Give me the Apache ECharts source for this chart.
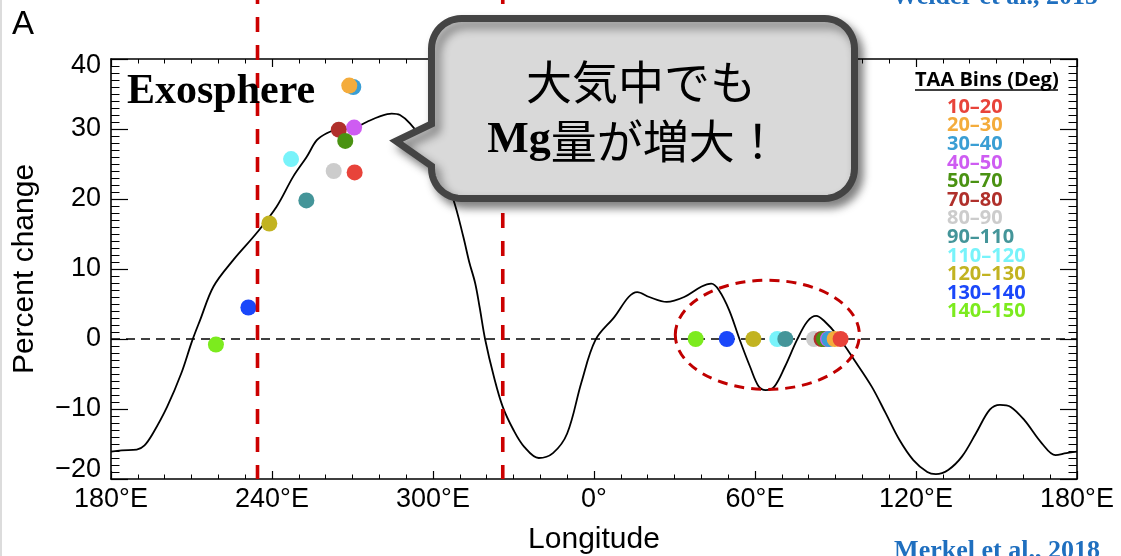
<!DOCTYPE html>
<html>
<head>
<meta charset="utf-8">
<script src="https://cdn.jsdelivr.net/npm/echarts@6/dist/echarts.min.js"></script>
<style>
  html, body { margin: 0; padding: 0; background: #fff; }
  #chart { width: 1121px; height: 556px; }
</style>
</head>
<body>
<div id="chart"></div>
<script>
// Longitudes are unwrapped so the axis runs 180°E → 360 (0°) → 540 (180°E again).
const xTickValues = [180, 240, 300, 360, 420, 480, 540];
const yTickValues = [-20, -10, 0, 10, 20, 30, 40];

// Surface Mg percent-change profile versus longitude
const curveLon = [180.0, 184.0, 189.6, 192.5, 195.6, 200.9, 206.2, 210.2, 213.2, 218.2,
  225.6, 234.2, 241.7, 247.9, 252.9, 256.7, 260.4, 264.1, 270.3, 275.3,
  280.2, 284.6, 287.7, 291.4, 297.0, 302.6, 307.6, 311.3, 313.5, 315.7,
  317.4, 319.4, 322.7, 326.0, 330.0, 334.0, 339.4, 344.7, 350.0, 355.3,
  360.6, 367.7, 372.9, 376.1, 380.6, 387.1, 393.6, 400.1, 403.7, 406.5,
  410.4, 414.3, 418.2, 421.4, 424.0, 427.2, 431.1, 435.7, 439.5, 442.8,
  446.0, 450.5, 457.0, 463.5, 468.7, 473.8, 479.0, 484.2, 487.4, 492.0,
  497.1, 502.3, 507.5, 511.3, 515.3, 520.4, 526.9, 532.0, 536.0, 540.0];
const curveVal = [-16.1, -15.9, -15.8, -15.2, -13.5, -9.7, -4.9, -0.3, 2.7, 7.5,
  11.3, 15.1, 18.9, 23.2, 26.0, 28.4, 29.4, 29.9, 30.1, 31.0,
  31.8, 32.2, 32.0, 30.8, 28.0, 24.5, 19.9, 14.6, 11.0, 8.0,
  4.5, 0.0, -5.4, -9.7, -13.0, -15.4, -17.0, -16.3, -13.5, -6.2,
  -0.1, 3.2, 6.0, 6.7, 6.0, 5.3, 6.0, 7.5, 7.9, 7.0,
  4.1, -0.1, -4.0, -6.8, -7.3, -6.8, -4.0, -0.1, 2.5, 3.3,
  2.5, 0.6, -3.0, -6.8, -10.6, -14.4, -17.3, -19.0, -19.3, -18.7,
  -16.8, -13.5, -10.1, -9.4, -9.7, -11.6, -14.9, -16.6, -16.3, -16.1];

// True-anomaly-angle bins and their colours
const taaBins = ['10–20', '20–30', '30–40', '40–50', '50–70', '70–80',
  '80–90', '90–110', '110–120', '120–130', '130–140', '140–150'];
const binColors = ['#E8433A', '#F4AC3C', '#3A9ED4', '#CE5CF2', '#4A9212', '#B0302B',
  '#CCCCCC', '#449599', '#78F3FA', '#C2B321', '#1A47FA', '#7CEB1E'];

// Exospheric Mg enhancement per bin: peak longitude and percent change
const exoLon = [270.8, 268.8, 270.3, 270.6, 267.3, 264.9, 263.0, 252.8, 247.1, 239.0, 231.2, 219.1];
const exoVal = [23.8, 36.2, 36.0, 30.2, 28.3, 29.9, 24.0, 19.8, 25.7, 16.5, 4.5, -0.8];

// Sub-solar longitude per bin, marked on the zero line
const surfLon = [451.9, 449.7, 447.7, 447.2, 445.7, 444.8, 442.0, 431.3, 428.3, 419.4, 409.5, 397.9];
const surfVal = [0, 0, 0, 0, 0, 0, 0, 0, 0, 0, 0, 0];

// Boundaries of the exosphere region (red dashed verticals)
const boundaryLon = [234.6, 326.0];
// Highlighted group of points on the zero line: centre and half-extents in data units
const highlightCenter = [424.6, 0.6];
const highlightHalf = [34.3, 7.8];

const FONT = '"Liberation Sans", Arial, sans-serif';
const SERIF = '"Liberation Serif", "Times New Roman", serif';
const JP = '"Noto Sans CJK JP", sans-serif';
const LEGEND_FONT = '"Open Sans", "Liberation Sans", sans-serif';

function lonLabel(v) {
  const d = ((v % 360) + 360) % 360;
  return d === 0 ? '0°' : d + '°E';
}
function yLabel(v) {
  const s = String(v).replace('-', '−');
  if (v === 40) return '{top|' + s + '}';
  if (v === -20) return '{bot|' + s + '}';
  return s;
}

const chart = echarts.init(document.getElementById('chart'), null, { renderer: 'canvas' });

const tickStyle = { color: '#000', width: 1.2 };
const axisLineStyle = { color: '#000', width: 1.6 };

const xAxisBase = {
  type: 'value', min: xTickValues[0], max: xTickValues[xTickValues.length - 1], interval: 60,
  axisLine: { show: true, onZero: false, lineStyle: axisLineStyle },
  axisTick: { show: true, inside: true, length: 8, lineStyle: tickStyle },
  minorTick: { show: true, splitNumber: 6, length: 4.5, lineStyle: { color: '#000', width: 1 } },
  splitLine: { show: false }, minorSplitLine: { show: false }
};
const yAxisBase = {
  type: 'value', min: yTickValues[0], max: yTickValues[yTickValues.length - 1], interval: 10,
  axisLine: { show: true, onZero: false, lineStyle: axisLineStyle },
  axisTick: { show: true, inside: true, length: 17, lineStyle: tickStyle },
  minorTick: { show: true, splitNumber: 10, length: 8.5, lineStyle: { color: '#000', width: 1 } },
  splitLine: { show: false }, minorSplitLine: { show: false }
};

// scatter series drawn from the last bin to the first so 10–20 ends up on top
const scatterSeries = [];
for (let i = taaBins.length - 1; i >= 0; i--) {
  scatterSeries.push({
    name: taaBins[i], type: 'scatter', symbol: 'circle', symbolSize: 16, z: 5,
    itemStyle: { color: binColors[i], opacity: 1 },
    emphasis: { disabled: true },
    data: [[exoLon[i], exoVal[i]], [surfLon[i], surfVal[i]]]
  });
}

chart.setOption({
  animation: false,
  backgroundColor: '#fff',
  grid: { left: 111, right: 44, top: 59, bottom: 77, containLabel: false, outerBoundsMode: 'none' },
  xAxis: [
    Object.assign({}, xAxisBase, {
      position: 'bottom',
      axisLabel: { show: true, formatter: lonLabel, fontSize: 27, color: '#000', fontFamily: FONT,
        margin: 7, showMinLabel: true, showMaxLabel: true },
      name: 'Longitude', nameLocation: 'middle', nameGap: 46,
      nameTextStyle: { fontSize: 30, color: '#000', fontFamily: FONT }
    }),
    Object.assign({}, xAxisBase, { position: 'top', axisLabel: { show: false } })
  ],
  yAxis: [
    Object.assign({}, yAxisBase, {
      position: 'left',
      axisLabel: { show: true, formatter: yLabel, fontSize: 27, color: '#000', fontFamily: FONT,
        margin: 10, showMinLabel: true, showMaxLabel: true,
        rich: {
          top: { fontSize: 27, fontFamily: FONT, color: '#000', padding: [14, 0, 0, 0] },
          bot: { fontSize: 27, fontFamily: FONT, color: '#000', padding: [0, 0, 18, 0] }
        } },
      name: 'Percent change', nameLocation: 'middle', nameGap: 71, nameRotate: 90,
      nameTextStyle: { fontSize: 30, color: '#000', fontFamily: FONT }
    }),
    Object.assign({}, yAxisBase, { position: 'right', axisLabel: { show: false } })
  ],
  legend: {
    orient: 'vertical', left: 937, top: 92, itemGap: -1.4, itemWidth: 0, itemHeight: 8,
    icon: 'none', selectedMode: false,
    textStyle: { fontSize: 20, fontWeight: 'bold', fontFamily: LEGEND_FONT },
    data: taaBins.map((b, i) => ({ name: b, textStyle: { color: binColors[i] } }))
  },
  series: [
    {
      name: 'profile', type: 'line', z: 2, smooth: 0.35, showSymbol: false, symbol: 'none',
      lineStyle: { color: '#000', width: 1.8 },
      emphasis: { disabled: true },
      data: curveLon.map((lon, i) => [lon, curveVal[i]]),
      markLine: {
        silent: true, symbol: 'none', label: { show: false },
        lineStyle: { color: '#000', width: 1.6, type: [9, 6] },
        data: [{ yAxis: 0 }]
      }
    }
  ].concat(scatterSeries)
});

// Annotations positioned through the chart's own coordinate conversion
function px(lon, val) { return chart.convertToPixel({ gridIndex: 0 }, [lon, val]); }

const bottomY = px(boundaryLon[0], yTickValues[0])[1];
const graphics = [];

// left page border
graphics.push({ type: 'line', z: 1, shape: { x1: 1, y1: 0, x2: 1, y2: 556 },
  style: { stroke: '#dcdcdc', lineWidth: 2 } });

boundaryLon.forEach(lon => {
  const x = px(lon, 0)[0];
  graphics.push({ type: 'line', z: 10, shape: { x1: x, y1: -11, x2: x, y2: bottomY },
    style: { stroke: '#CC0000', lineWidth: 3.6, lineDash: [15, 13] } });
});

// dashed ellipse round the zero-line points
const c = px(highlightCenter[0], highlightCenter[1]);
const e1 = px(highlightCenter[0] + highlightHalf[0], highlightCenter[1] + highlightHalf[1]);
graphics.push({ type: 'ellipse', z: 10,
  shape: { cx: c[0], cy: c[1], rx: Math.abs(e1[0] - c[0]), ry: Math.abs(e1[1] - c[1]) },
  style: { fill: null, stroke: '#C00000', lineWidth: 3, lineDash: [10, 7] } });

// speech bubble outline: rounded box with a pointer on its left side
function bubblePoints(x0, y0, x1, y1, r, tip, j0, j1) {
  const pts = [];
  const arc = (cx, cy, a0, a1) => {
    for (let i = 0; i <= 12; i++) {
      const a = a0 + (a1 - a0) * i / 12;
      pts.push([cx + r * Math.cos(a), cy + r * Math.sin(a)]);
    }
  };
  arc(x1 - r, y0 + r, -Math.PI / 2, 0);
  arc(x1 - r, y1 - r, 0, Math.PI / 2);
  arc(x0 + r, y1 - r, Math.PI / 2, Math.PI);
  pts.push([x0, j1]); pts.push(tip); pts.push([x0, j0]);
  arc(x0 + r, y0 + r, Math.PI, 1.5 * Math.PI);
  return pts;
}
graphics.push({ type: 'polygon', z: 20,
  shape: { points: bubblePoints(431.5, 18.5, 854.5, 198.5, 30, [396, 141], 124, 166) },
  style: { fill: '#D9D9D9', stroke: '#444444', lineWidth: 7, lineJoin: 'miter',
    shadowBlur: 10, shadowOffsetX: 5, shadowOffsetY: 6, shadowColor: 'rgba(0,0,0,0.45)' } });
graphics.push({ type: 'text', z: 21, style: { text: '大気中でも', x: 641, y: 82,
  align: 'center', verticalAlign: 'middle', font: '46px ' + JP, fill: '#000' } });
graphics.push({ type: 'text', z: 21, style: { text: '{mg|Mg}{jp|量が増大！}', x: 634, y: 141,
  align: 'center', verticalAlign: 'middle', fill: '#000',
  rich: {
    mg: { font: 'bold 44px ' + SERIF, fill: '#000' },
    jp: { font: '46px ' + JP, fill: '#000' }
  } } });

graphics.push({ type: 'text', z: 15, style: { text: 'Exosphere', x: 127, y: 92,
  align: 'left', verticalAlign: 'middle', font: 'bold 42px ' + SERIF, fill: '#000' } });
graphics.push({ type: 'text', z: 15, style: { text: 'A', x: 12, y: 25,
  align: 'left', verticalAlign: 'middle', font: '33px ' + FONT, fill: '#000' } });

// legend heading
graphics.push({ type: 'text', z: 15, style: { text: 'TAA Bins (Deg)', x: 915, y: 80,
  align: 'left', verticalAlign: 'middle', font: 'bold 20px ' + LEGEND_FONT, fill: '#000' } });
graphics.push({ type: 'line', z: 15, shape: { x1: 915, y1: 90, x2: 1058, y2: 90 },
  style: { stroke: '#000', lineWidth: 1.5 } });

// source credits
graphics.push({ type: 'text', z: 15, style: { text: 'Weider et al., 2015', x: 995, y: -3,
  align: 'center', verticalAlign: 'middle', font: 'bold 26px ' + SERIF, fill: '#1F6FBF' } });
graphics.push({ type: 'text', z: 15, style: { text: 'Merkel et al., 2018', x: 997, y: 551,
  align: 'center', verticalAlign: 'middle', font: 'bold 26px ' + SERIF, fill: '#1F6FBF' } });

chart.setOption({ graphic: graphics });
</script>
</body>
</html>
